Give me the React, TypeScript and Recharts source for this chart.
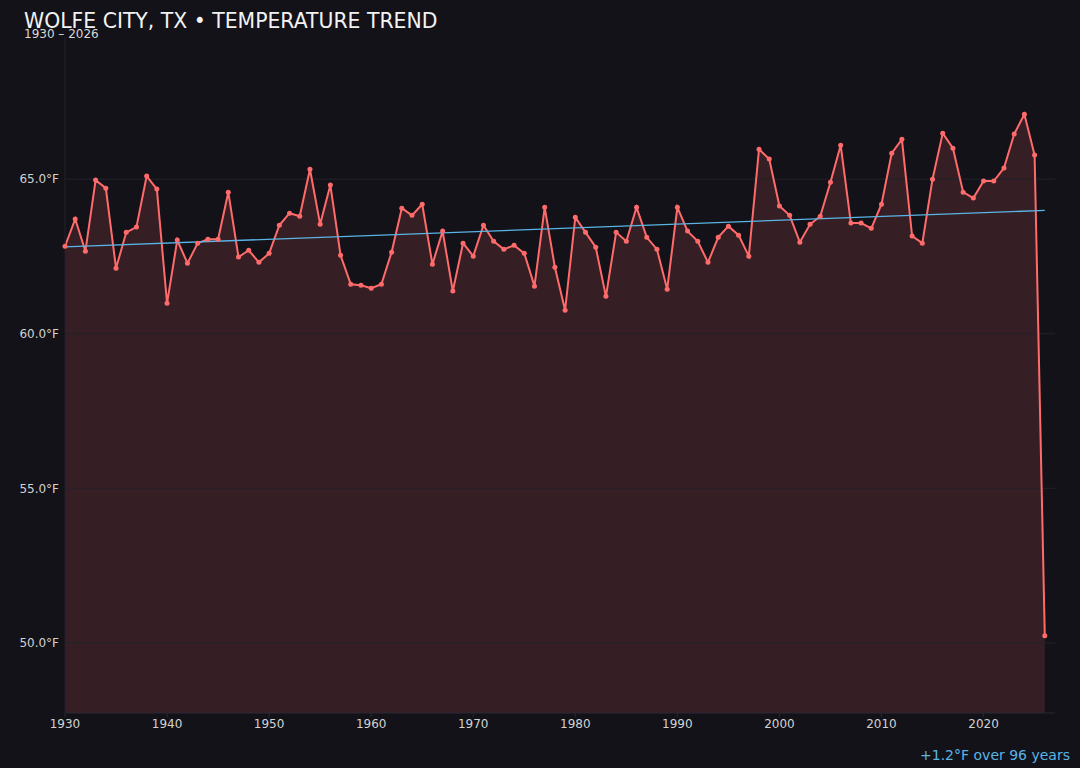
import { ComposedChart, Area, Line, XAxis, YAxis, ReferenceLine } from 'recharts';

const START_YEAR = 1930;

// Annual mean temperature, °F, 1930 – 2026
const TEMPS = [
  62.83, 63.71, 62.67, 64.97, 64.71, 62.12, 63.28, 63.45, 65.1, 64.68,
  60.99, 63.03, 62.28, 62.93, 63.06, 63.06, 64.58, 62.48, 62.7, 62.31,
  62.6, 63.51, 63.9, 63.8, 65.32, 63.54, 64.81, 62.54, 61.6, 61.57,
  61.47, 61.6, 62.64, 64.06, 63.83, 64.19, 62.25, 63.32, 61.38, 62.93,
  62.51, 63.51, 62.99, 62.73, 62.86, 62.6, 61.54, 64.09, 62.15, 60.76,
  63.77, 63.28, 62.8, 61.21, 63.28, 62.99, 64.09, 63.12, 62.73, 61.44,
  64.09, 63.32, 62.99, 62.31, 63.12, 63.48, 63.19, 62.51, 65.97, 65.65,
  64.13, 63.83, 62.96, 63.54, 63.8, 64.9, 66.1, 63.58, 63.58, 63.41,
  64.19, 65.84, 66.29, 63.16, 62.93, 65.0, 66.49, 66.0, 64.58, 64.39,
  64.94, 64.94, 65.36, 66.46, 67.1, 65.78, 50.23,
];

// Trend line end points (first and last year)
const TREND_START = 62.81;
const TREND_END = 63.99;

const X_TICKS = [1930, 1940, 1950, 1960, 1970, 1980, 1990, 2000, 2010, 2020];
const Y_TICKS = [50, 55, 60, 65];

const TITLE = 'WOLFE CITY, TX • TEMPERATURE TREND';
const SUBTITLE = '1930 – 2026';
const FOOTNOTE = '+1.2°F over 96 years';

const BG = '#131218';
const RED = '#ff6b6b';
const BLUE = '#5ab4e5';
const FONT = '"DejaVu Sans", sans-serif';

const data = TEMPS.map((t, i) => ({
  year: START_YEAR + i,
  temp: t,
  trend: i === 0 ? TREND_START : i === TEMPS.length - 1 ? TREND_END : null,
}));

export default function App() {
  return (
    <div style={{ position: 'relative', width: 1080, height: 768, background: BG, fontFamily: FONT }}>
      <style>{`body{margin:0;background:${BG};}`}</style>
      <div style={{ position: 'absolute', left: 24, top: 13, fontSize: 20.4, lineHeight: 0.8, color: '#f2f2f2' }}>
        {TITLE}
      </div>
      <div style={{ position: 'absolute', left: 24, top: 30, fontSize: 12, lineHeight: 0.8, color: '#d8d8d8' }}>
        {SUBTITLE}
      </div>
      <ComposedChart
        width={1080}
        height={768}
        data={data}
        margin={{ top: 37, right: 25, bottom: 25, left: 5 }}
      >
        {Y_TICKS.map((t) => (
          <ReferenceLine key={t} y={t} stroke="#23222b" strokeWidth={1} />
        ))}
        <XAxis
          dataKey="year"
          type="number"
          domain={[1930, 2027]}
          ticks={X_TICKS}
          height={30}
          tickSize={4}
          tick={{ fill: '#d2d2d2', fontSize: 12, fontFamily: FONT }}
          axisLine={{ stroke: '#2a2933' }}
          tickLine={{ stroke: '#2a2933' }}
        />
        <YAxis
          type="number"
          domain={[(min: number) => min - 2.5, (max: number) => max + 2.5]}
          ticks={Y_TICKS}
          width={60}
          tickSize={4}
          tickLine={false}
          axisLine={{ stroke: '#22212a' }}
          tick={{ fill: '#d2d2d2', fontSize: 12, fontFamily: FONT }}
          tickFormatter={(v: number) => `${v.toFixed(1)}°F`}
        />
        <Area
          type="linear"
          dataKey="temp"
          stroke="none"
          fill={RED}
          fillOpacity={0.15}
          isAnimationActive={false}
        />
        <Line
          type="linear"
          dataKey="temp"
          stroke={RED}
          strokeWidth={2}
          dot={{ r: 2.5, fill: RED, stroke: 'none' }}
          activeDot={false}
          isAnimationActive={false}
        />
        <Line
          type="linear"
          dataKey="trend"
          stroke={BLUE}
          strokeWidth={1.3}
          dot={false}
          activeDot={false}
          connectNulls
          isAnimationActive={false}
        />
      </ComposedChart>
      <div style={{ position: 'absolute', right: 10, top: 748, fontSize: 14, lineHeight: 1, color: BLUE }}>
        {FOOTNOTE}
      </div>
    </div>
  );
}
